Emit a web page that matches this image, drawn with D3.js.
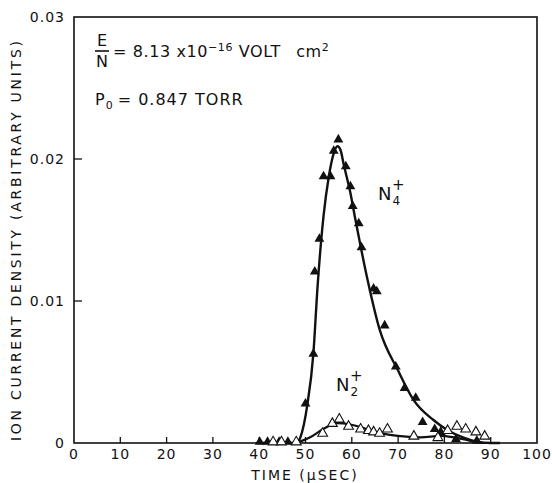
<!DOCTYPE html>
<html>
<head>
<meta charset="utf-8">
<script src="https://cdn.jsdelivr.net/npm/d3@7"></script>
<style>
  body { margin: 0; background: #fff; }
  svg text { font-family: "DejaVu Sans", sans-serif; fill: #111; }
</style>
</head>
<body>
<div id="chart"></div>
<script>
// Ion current density vs time, N4+ (filled) and N2+ (open)

var xTicks = [0, 10, 20, 30, 40, 50, 60, 70, 80, 90, 100];
var yTicks = [0, 0.01, 0.02, 0.03];
var yTickLabels = ['0', '0.01', '0.02', '0.03'];

// measured points, N4+ (filled triangles)
var n4X = [40.1, 41.8, 44.3, 46.2, 50.0, 51.7, 52.0, 53.0, 53.9, 55.4, 56.1, 57.1, 58.7, 59.7, 60.2, 61.5,
           62.1, 64.7, 65.4, 67.1, 69.5, 71.4, 73.8, 75.3, 77.9, 79.2, 82.5, 87.0];
var n4Y = [0, 0, 0, 0, 0.0027, 0.0062, 0.0120, 0.0143, 0.0187, 0.0187, 0.0205, 0.0213, 0.0194, 0.0180, 0.0166, 0.0154,
           0.0137, 0.0108, 0.0106, 0.0082, 0.0053, 0.0038, 0.0031, 0.0014, 0.0009, 0.0007, 0.0002, 0.0001];

// measured points, N2+ (open triangles)
var n2X = [43.0, 44.8, 48.0, 53.7, 55.8, 57.3, 59.3, 61.9, 63.6, 64.7, 66.0, 67.7, 73.4, 78.6,
           80.7, 82.7, 84.6, 86.8, 88.7];
var n2Y = [0, 0, 0, 0.0006, 0.0013, 0.0016, 0.0011, 0.0009, 0.0008, 0.0007, 0.0006, 0.0009, 0.0004, 0.0003,
           0.0008, 0.0011, 0.0009, 0.0007, 0.0004];

// fitted curves
var n4CurveX = [40, 48, 48.9, 50.4, 51.7, 52.6, 53.9, 55, 56.1, 56.9, 57.6, 58.2, 59.7, 60.8,
                63.4, 66, 70, 73.4, 77.7, 80.7, 84, 87, 90, 92];
var n4CurveY = [0, 0, 0.0004, 0.0027, 0.0063, 0.0110, 0.0160, 0.0187, 0.0204, 0.0209, 0.0206, 0.0197, 0.0176, 0.0157,
                0.0115, 0.0080, 0.0051, 0.0030, 0.0016, 0.0009, 0.0004, 0.0001, 0, 0];
var n2CurveX = [48, 51, 53.9, 56.9, 59.7, 63, 66.2, 69.9, 74.9, 79.2, 82, 85, 88, 92];
var n2CurveY = [0, 0.0004, 0.0010, 0.0014, 0.0013, 0.0010, 0.0007, 0.0005, 0.0004, 0.0005, 0.0004, 0.0002, 0, 0];

var width = 552, height = 483;
var margin = { left: 74, right: 15, top: 17, bottom: 40 };

var svg = d3.select('#chart').append('svg')
    .attr('width', width)
    .attr('height', height);

var x = d3.scaleLinear().domain([0, 100]).range([margin.left, width - margin.right]);
var y = d3.scaleLinear().domain([0, 0.03]).range([height - margin.bottom, margin.top]);

// frame
svg.append('rect')
    .attr('x', x(0)).attr('y', y(0.03))
    .attr('width', x(100) - x(0)).attr('height', y(0) - y(0.03))
    .attr('fill', 'none').attr('stroke', '#111').attr('stroke-width', 1.6);

// x ticks (inward)
svg.append('g').selectAll('line')
    .data(xTicks.slice(1, -1))
    .enter().append('line')
    .attr('x1', function(d) { return x(d); }).attr('x2', function(d) { return x(d); })
    .attr('y1', y(0)).attr('y2', y(0) - 6)
    .attr('stroke', '#111').attr('stroke-width', 1.3);

svg.append('g').selectAll('text')
    .data(xTicks)
    .enter().append('text')
    .attr('x', function(d) { return x(d); })
    .attr('y', y(0) + 16)
    .attr('text-anchor', 'middle')
    .attr('font-size', '14px')
    .attr('letter-spacing', '1px')
    .text(function(d) { return d; });

// y ticks (inward)
svg.append('g').selectAll('line')
    .data(yTicks.slice(1, -1))
    .enter().append('line')
    .attr('x1', x(0)).attr('x2', x(0) + 8)
    .attr('y1', function(d) { return y(d); }).attr('y2', function(d) { return y(d); })
    .attr('stroke', '#111').attr('stroke-width', 1.3);

svg.append('g').selectAll('text')
    .data(yTicks)
    .enter().append('text')
    .attr('x', x(0) - 9)
    .attr('y', function(d) { return y(d) + 5; })
    .attr('text-anchor', 'end')
    .attr('font-size', '14px')
    .attr('letter-spacing', '1px')
    .text(function(d, i) { return yTickLabels[i]; });

// axis titles
svg.append('text')
    .attr('x', 305).attr('y', 480)
    .attr('text-anchor', 'middle')
    .attr('font-size', '14px')
    .attr('letter-spacing', '2px')
    .text('TIME  (\u03bcSEC)');

svg.append('text')
    .attr('transform', 'translate(21,' + 241 + ') rotate(-90)')
    .attr('text-anchor', 'middle')
    .attr('font-size', '14px')
    .attr('textLength', 400)
    .attr('lengthAdjust', 'spacing')
    .text('ION CURRENT DENSITY (ARBITRARY UNITS)');

// curves
var line = d3.line()
    .x(function(d) { return x(d[0]); })
    .y(function(d) { return y(d[1]); })
    .curve(d3.curveMonotoneX);

svg.append('path')
    .datum(d3.zip(n4CurveX, n4CurveY))
    .attr('d', line)
    .attr('fill', 'none').attr('stroke', '#111').attr('stroke-width', 2.4);

svg.append('path')
    .datum(d3.zip(n2CurveX, n2CurveY))
    .attr('d', line)
    .attr('fill', 'none').attr('stroke', '#111').attr('stroke-width', 2.2);

// points
var tri = d3.symbol().type(d3.symbolTriangle).size(42);

svg.append('g').selectAll('path')
    .data(d3.zip(n4X, n4Y))
    .enter().append('path')
    .attr('d', tri)
    .attr('transform', function(d) { return 'translate(' + x(d[0]) + ',' + (y(d[1]) - 1) + ')'; })
    .attr('fill', '#111');

svg.append('g').selectAll('path')
    .data(d3.zip(n2X, n2Y))
    .enter().append('path')
    .attr('d', tri)
    .attr('transform', function(d) { return 'translate(' + x(d[0]) + ',' + (y(d[1]) - 1) + ')'; })
    .attr('fill', '#fff').attr('stroke', '#111').attr('stroke-width', 1.1);

// series labels
var n4Label = svg.append('text').attr('x', 378).attr('y', 200).attr('font-size', '18px');
n4Label.append('tspan').text('N');
n4Label.append('tspan').attr('font-size', '12px').attr('dy', 5).attr('dx', 1).text('4');
n4Label.append('tspan').attr('font-size', '15px').attr('dx', -8).attr('dy', -15).text('+');

var n2Label = svg.append('text').attr('x', 336).attr('y', 391).attr('font-size', '18px');
n2Label.append('tspan').text('N');
n2Label.append('tspan').attr('font-size', '12px').attr('dy', 5).attr('dx', 1).text('2');
n2Label.append('tspan').attr('font-size', '15px').attr('dx', -8).attr('dy', -15).text('+');

// annotation: E/N
svg.append('text').attr('x', 102).attr('y', 46).attr('text-anchor', 'middle').attr('font-size', '16px').text('E');
svg.append('line').attr('x1', 95).attr('x2', 109).attr('y1', 51).attr('y2', 51)
    .attr('stroke', '#111').attr('stroke-width', 1.6);
svg.append('text').attr('x', 102).attr('y', 67).attr('text-anchor', 'middle').attr('font-size', '16px').text('N');

var en = svg.append('text').attr('x', 113).attr('y', 57).attr('font-size', '16px').attr('letter-spacing', '0.6px');
en.append('tspan').text('= 8.13 x10');
en.append('tspan').attr('font-size', '11px').attr('dy', -6).text('\u221216');
en.append('tspan').attr('dy', 6).text(' VOLT');
en.append('tspan').attr('dx', 18).text('cm');
en.append('tspan').attr('font-size', '11px').attr('dy', -6).text('2');

var p0 = svg.append('text').attr('x', 95).attr('y', 105).attr('font-size', '16px').attr('letter-spacing', '1px');
p0.append('tspan').text('P');
p0.append('tspan').attr('font-size', '11px').attr('dy', 4).text('0');
p0.append('tspan').attr('dy', -4).attr('dx', 4).text('=  0.847  TORR');
</script>
</body>
</html>
